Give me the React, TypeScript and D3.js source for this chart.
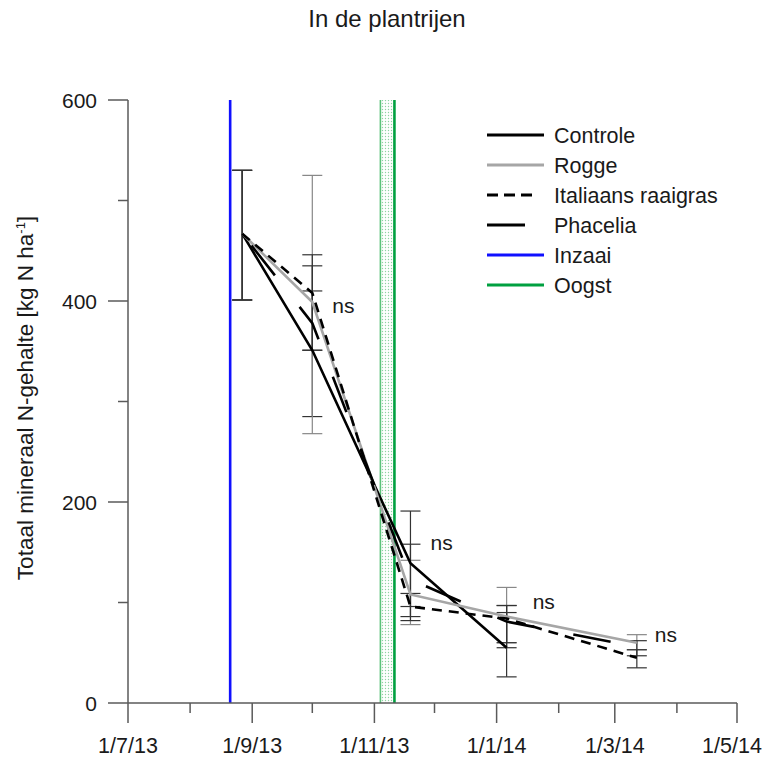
import React from "react";
import * as d3 from "d3";

// ---------- data ----------
const sampleDates = ["2013-08-27", "2013-10-01", "2013-11-19", "2014-01-06", "2014-03-12"];
const seriesNames = ["Controle", "Rogge", "Italiaans raaigras", "Phacelia"];
const controleValues = [467, 351, 139, 55, null];
const roggeValues = [467, 399, 108, 86, 60];
const italiaansValues = [467, 408, 96, 84, 45];
const phaceliaValues = [467, 378, 123, 81, 56];

const controleLow = [401, 285, 86, 26, null];
const controleHigh = [530, 410, 191, 90, null];
const roggeLow = [401, 268, 78, 60, 53];
const roggeHigh = [530, 525, 142, 115, 68];
const italiaansLow = [401, 351, 82, 55, 35];
const italiaansHigh = [530, 446, 109, 97, 53];
const phaceliaLow = [401, 351, 96, 60, 47];
const phaceliaHigh = [530, 435, 158, 97, 62];

const inzaaiDate = "2013-08-21";
const oogstStartDate = "2013-11-04";
const oogstEndDate = "2013-11-11";

const nsDates = ["2013-10-11", "2013-11-29", "2014-01-19", "2014-03-21"];
const nsValues = [388, 152, 94, 61];

const xDomain = ["2013-07-01", "2014-05-01"];
const yDomain = [0, 600];
const yMajorTicks = [0, 200, 400, 600];
const yMinorTicks = [100, 300, 500];
const xMajorTicks = ["2013-07-01", "2013-09-01", "2013-11-01", "2014-01-01", "2014-03-01", "2014-05-01"];
const xMinorTicks = ["2013-08-01", "2013-10-01", "2013-12-01", "2014-02-01", "2014-04-01"];

const title = "In de plantrijen";
const yLabel = "Totaal mineraal N-gehalte [kg N ha";

// ---------- styles ----------
const W = 764, H = 758;
const FONT = "'Liberation Sans', Arial, Helvetica, sans-serif";
const TXT = "#1a1a1a";
const AX = "#5a5a5a";
const BLUE = "#1010ff";
const GREEN = "#00a040";
const LGREEN = "#5cc27a";
const GREY = "#a6a6a6";

const parse = d3.timeParse("%Y-%m-%d");
const fmt = (d: Date) => `${d.getDate()}/${d.getMonth() + 1}/${String(d.getFullYear()).slice(2)}`;

export default function App() {
  const x = d3.scaleTime().domain(xDomain.map((s) => parse(s)!)).range([128, 737]);
  const y = d3.scaleLinear().domain(yDomain).range([703, 100]);
  const dates = sampleDates.map((s) => parse(s)!);

  const series = [
    { name: seriesNames[0], vals: controleValues, lo: controleLow, hi: controleHigh, color: "#000", dash: undefined as string | undefined, off: 0, ebColor: "#333" },
    { name: seriesNames[1], vals: roggeValues, lo: roggeLow, hi: roggeHigh, color: GREY, dash: undefined, off: 0, ebColor: "#888" },
    { name: seriesNames[2], vals: italiaansValues, lo: italiaansLow, hi: italiaansHigh, color: "#000", dash: "10,7", off: 0, ebColor: "#333" },
    { name: seriesNames[3], vals: phaceliaValues, lo: phaceliaLow, hi: phaceliaHigh, color: "#000", dash: "38,40", off: 63, ebColor: "#333" },
  ];

  const line = d3
    .line<[Date, number | null]>()
    .defined((d) => d[1] != null)
    .x((d) => x(d[0]))
    .y((d) => y(d[1] as number));

  const y0 = y(0), yTop = y(600);
  const xi = x(parse(inzaaiDate)!);
  const xo1 = x(parse(oogstStartDate)!);
  const xo2 = x(parse(oogstEndDate)!);

  const legend = [
    { label: "Controle", color: "#000", dash: undefined as string | undefined, len: 57 },
    { label: "Rogge", color: GREY, dash: undefined, len: 57 },
    { label: "Italiaans raaigras", color: "#000", dash: "11,6", len: 50 },
    { label: "Phacelia", color: "#000", dash: undefined, len: 38 },
    { label: "Inzaai", color: BLUE, dash: undefined, len: 57 },
    { label: "Oogst", color: GREEN, dash: undefined, len: 57 },
  ];

  return (
    <svg
      width={W}
      height={H}
      style={{ position: "absolute", left: 0, top: 0, background: "#fff" }}
      fontFamily={FONT}
    >
      <defs>
        <pattern id="dots" width="3" height="3" patternUnits="userSpaceOnUse">
          <rect width="3" height="3" fill="#fff" />
          <circle cx="1.5" cy="1.5" r="0.7" fill="#8fd4a2" />
        </pattern>
      </defs>
      <rect width={W} height={H} fill="#fff" />

      {/* title */}
      <text x={387} y={27} textAnchor="middle" fontSize={24} fill={TXT}>{title}</text>

      {/* y label */}
      <text transform={`translate(33,398) rotate(-90)`} textAnchor="middle" fontSize={22.5} fill={TXT}>
        {yLabel}
        <tspan dy={-8} fontSize={13}>-1</tspan>
        <tspan dy={8}>]</tspan>
      </text>

      {/* Inzaai / Oogst */}
      <line x1={xi} x2={xi} y1={yTop} y2={y0} stroke={BLUE} strokeWidth={2.6} />
      <rect x={xo1} y={yTop} width={xo2 - xo1} height={y0 - yTop} fill="url(#dots)" />
      <line x1={xo1} x2={xo1} y1={yTop} y2={y0} stroke={LGREEN} strokeWidth={1.6} />
      <line x1={xo2} x2={xo2} y1={yTop} y2={y0} stroke={GREEN} strokeWidth={2.6} />

      {/* axes */}
      <line x1={128} x2={128} y1={yTop} y2={y0} stroke={AX} strokeWidth={1.5} />
      <line x1={x.range()[0]} x2={x.range()[1]} y1={y0} y2={y0} stroke={AX} strokeWidth={1.5} />
      {yMajorTicks.map((t) => (
        <g key={"ym" + t}>
          <line x1={108} x2={128} y1={y(t)} y2={y(t)} stroke={AX} strokeWidth={1.5} />
          <text x={97} y={y(t) + 7.5} textAnchor="end" fontSize={21} fill={TXT}>{t}</text>
        </g>
      ))}
      {yMinorTicks.map((t) => (
        <line key={"yn" + t} x1={118} x2={128} y1={y(t)} y2={y(t)} stroke={AX} strokeWidth={1.5} />
      ))}
      {xMajorTicks.map((s) => {
        const d = parse(s)!;
        return (
          <g key={"xm" + s}>
            <line x1={x(d)} x2={x(d)} y1={y0} y2={y0 + 20} stroke={AX} strokeWidth={1.5} />
            <text x={Math.min(x(d), W - 32)} y={753} textAnchor="middle" fontSize={21.5} fill={TXT}>{fmt(d)}</text>
          </g>
        );
      })}
      {xMinorTicks.map((s) => {
        const d = parse(s)!;
        return <line key={"xn" + s} x1={x(d)} x2={x(d)} y1={y0} y2={y0 + 10} stroke={AX} strokeWidth={1.5} />;
      })}

      {/* error bars */}
      {series.map((s) =>
        dates.map((d, i) => {
          if (s.lo[i] == null || s.hi[i] == null) return null;
          const cx = x(d);
          return (
            <g key={s.name + i} stroke={s.ebColor} strokeWidth={1.2}>
              <line x1={cx} x2={cx} y1={y(s.lo[i] as number)} y2={y(s.hi[i] as number)} />
              <line x1={cx - 10} x2={cx + 10} y1={y(s.lo[i] as number)} y2={y(s.lo[i] as number)} />
              <line x1={cx - 10} x2={cx + 10} y1={y(s.hi[i] as number)} y2={y(s.hi[i] as number)} />
            </g>
          );
        })
      )}

      {/* series lines */}
      {series.map((s) => (
        <path
          key={s.name}
          d={line(dates.map((d, i) => [d, s.vals[i]] as [Date, number | null])) || ""}
          fill="none"
          stroke={s.color}
          strokeWidth={2.6}
          strokeDasharray={s.dash}
          strokeDashoffset={s.off}
        />
      ))}

      {/* ns labels */}
      {nsDates.map((s, i) => (
        <text key={"ns" + i} x={x(parse(s)!)} y={y(nsValues[i])} fontSize={21} fill={TXT}>ns</text>
      ))}

      {/* legend */}
      {legend.map((l, i) => {
        const ly = 135 + i * 30;
        return (
          <g key={l.label}>
            <line x1={487} x2={487 + l.len} y1={ly} y2={ly} stroke={l.color} strokeWidth={3} strokeDasharray={l.dash} />
            <text x={554} y={ly + 7.5} fontSize={21.5} fill={TXT}>{l.label}</text>
          </g>
        );
      })}
    </svg>
  );
}
